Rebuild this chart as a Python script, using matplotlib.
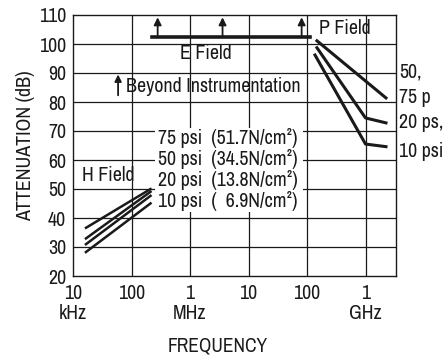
import matplotlib
matplotlib.use("Agg")
import matplotlib.pyplot as plt
from matplotlib import font_manager as fm
from matplotlib.patches import Rectangle

# ============================================================
# DATA
# ============================================================

# H field, 10 kHz .. 200 kHz, one line per pressure
h_freq = [1.6e4, 2.2e5]
h_75psi = [36.4, 50.2]
h_50psi = [32.7, 49.3]
h_20psi = [30.7, 47.9]
h_10psi = [28.0, 45.3]

# E field limit line (beyond instrumentation) and arrow positions
e_freq = [2.24e5, 1.13e8]
e_level = [102.5, 102.5]
e_arrow_freq = [2.8e5, 3.6e6, 8.1e7]

# P field (plane wave), 150 MHz .. 2.2 GHz
p_freq_5075 = [1.48e8, 2.24e9]
p_5075psi = [101.1, 81.4]
p_freq_20 = [1.48e8, 1.0e9, 2.24e9]
p_20psi = [98.7, 74.5, 72.8]
p_freq_10 = [1.37e8, 1.0e9, 2.24e9]
p_10psi = [96.2, 65.5, 64.6]

legend_lines = ["75 psi  (51.7N/cm²)",
                "50 psi  (34.5N/cm²)",
                "20 psi  (13.8N/cm²)",
                "10 psi  (  6.9N/cm²)"]
right_labels = ["50,", "75 p", "20 ps,", "10 psi"]
right_label_y = [90.3, 81.7, 73.1, 63.1]

x_ticks = [1e4, 1e5, 1e6, 1e7, 1e8, 1e9]
x_ticklabels = ["10\nkHz", "100", "1\nMHz", "10", "100", "1\nGHz"]
y_ticks = list(range(20, 111, 10))

# ============================================================
# STYLE
# ============================================================

installed = {f.name for f in fm.fontManager.ttflist}
family = [f for f in ["Liberation Sans Narrow", "Archivo Narrow"] if f in installed]
plt.rcParams["font.family"] = family + ["DejaVu Sans"]
FS = 14.4
INK = "#1a1a1a"

fig = plt.figure(figsize=(4.46, 3.58), dpi=100)
ax = fig.add_axes([73 / 446, 1 - 276 / 358, (396 - 73) / 446, (276 - 15) / 358])
ax.set_xscale("log")
ax.set_xlim(1e4, 10 ** (4 + 323 / 58.5))
ax.set_ylim(20, 110)

# grid
for x in x_ticks[1:]:
    ax.axvline(x, color=INK, lw=0.9, zorder=1)
for y in y_ticks[1:-1]:
    ax.axhline(y, color=INK, lw=0.9, zorder=1)
for s in ax.spines.values():
    s.set_color(INK)
    s.set_linewidth(1.0)

# white patch behind the pressure legend
ax.add_patch(Rectangle((2.5e5, 42), 8.5e7 - 2.5e5, 71 - 42,
                       facecolor="white", edgecolor="none", zorder=2))

# H field lines
for yv in [h_75psi, h_50psi, h_20psi, h_10psi]:
    ax.plot(h_freq, yv, color=INK, lw=1.8, solid_capstyle="butt", zorder=3)

# E field line with arrows
ax.plot(e_freq, e_level, color=INK, lw=2.6, zorder=3)
for xa in e_arrow_freq:
    ax.annotate("", xy=(xa, 109.2), xytext=(xa, 102.5),
                arrowprops=dict(arrowstyle="-|>", color=INK, lw=1.3,
                                mutation_scale=11, shrinkA=0, shrinkB=0),
                zorder=4)

# P field lines
ax.plot(p_freq_5075, p_5075psi, color=INK, lw=2.2, zorder=3)
ax.plot(p_freq_20, p_20psi, color=INK, lw=2.2, zorder=3)
ax.plot(p_freq_10, p_10psi, color=INK, lw=2.2, zorder=3)

# labels inside the plot
ax.text(6.8e5, 96.6, "E Field", fontsize=FS, color=INK, va="center", zorder=5)
ax.text(1.6e8, 105.2, "P Field", fontsize=FS, color=INK, va="center", zorder=5)
ax.text(1.45e4, 54.8, "H Field", fontsize=FS, color=INK, va="center", zorder=5)
ax.annotate("", xy=(5.9e4, 89.5), xytext=(5.9e4, 82.3),
            arrowprops=dict(arrowstyle="-|>", color=INK, lw=1.3,
                            mutation_scale=10, shrinkA=0, shrinkB=0), zorder=4)
ax.text(7.9e4, 85.5, "Beyond Instrumentation", fontsize=FS, color=INK,
        va="center", zorder=5)

for i, txt in enumerate(legend_lines):
    ax.text(2.8e5, 67.7 - i * 7.3, txt, fontsize=FS, color=INK,
            va="center", zorder=5)

tr = ax.get_yaxis_transform()
for txt, yv in zip(right_labels, right_label_y):
    ax.text(1.01, yv, txt, transform=tr, fontsize=FS, color=INK,
            va="center", clip_on=False)

# axes ticks
ax.set_xticks(x_ticks)
ax.set_xticklabels(x_ticklabels, fontsize=FS, color=INK, linespacing=1.05)
ax.xaxis.set_minor_locator(matplotlib.ticker.NullLocator())
ax.set_yticks(y_ticks)
ax.set_yticklabels([str(v) for v in y_ticks], fontsize=FS, color=INK)
ax.tick_params(axis="both", length=0)
ax.tick_params(axis="x", pad=6)
ax.tick_params(axis="y", pad=5)

fig.text(26 / 446, 1 - 145.5 / 358, "ATTENUATION (dB)", rotation=90,
         fontsize=FS, color=INK, ha="center", va="center")
fig.text(218 / 446, 1 - 346 / 358, "FREQUENCY", fontsize=14, color=INK,
         ha="center", va="center")

fig.savefig("out.png", dpi=100)
